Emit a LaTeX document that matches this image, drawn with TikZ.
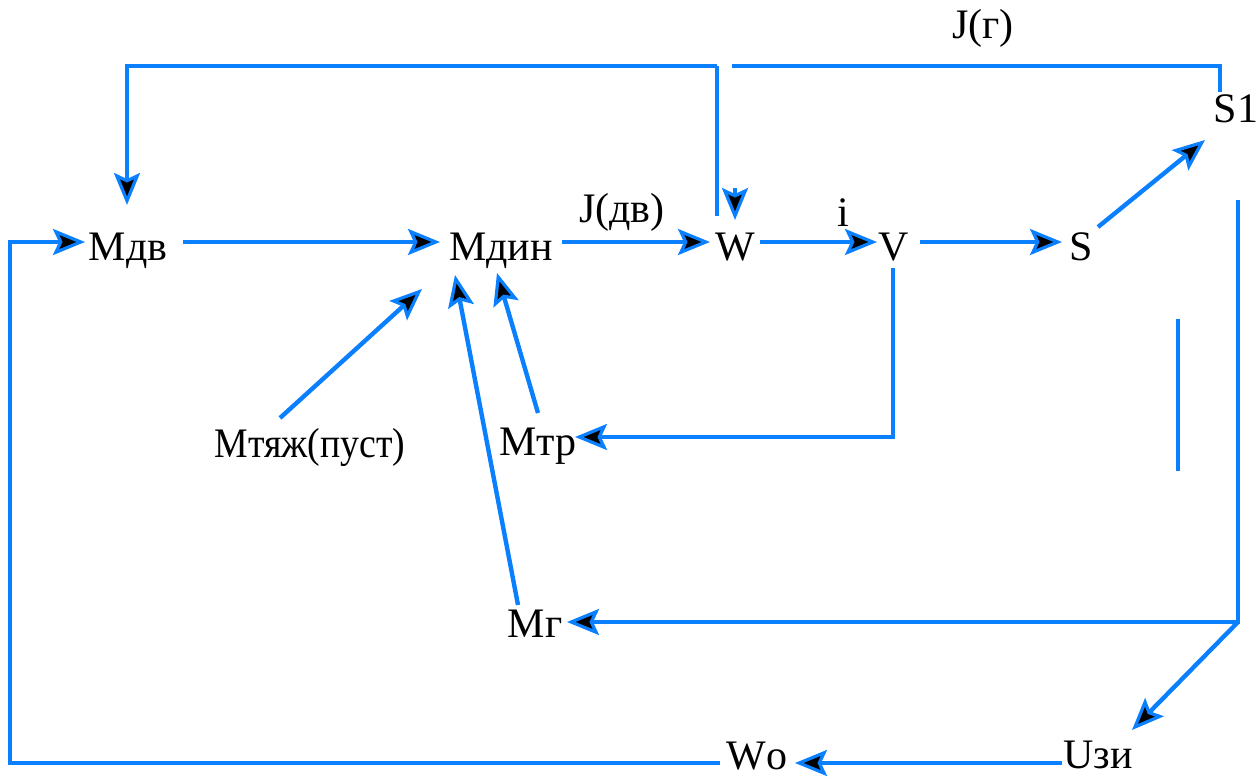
\documentclass[tikz,border=0pt]{standalone}
\usepackage{fontspec}
\setmainfont{Liberation Serif}
\newfontfamily\tnr{Liberation Serif}
\usetikzlibrary{arrows.meta,calc}
\definecolor{lblue}{RGB}{10,128,255}
\tikzset{
  lbl/.style={inner sep=0pt, text height=18pt, text depth=0pt, font=\tnr\fontsize{21}{25}\selectfont},
  line/.style={draw=lblue, line width=2.2pt},
  arr/.style={line, -{Stealth[length=16pt,width=13pt,inset=3pt,color=lblue,fill=black,line width=1.6pt]}}
}
\begin{document}
\begin{tikzpicture}[x=0.5pt,y=-0.5pt]
\useasboundingbox (0,0) rectangle (1257,776);
% nodes
\node[lbl] (Mdv) at (128,242) {Мдв};
\node[lbl] (Mdin) at (501,242) {Мдин};
\node[lbl] (W) at (735,242) {W};
\node[lbl] (V) at (894,242) {V};
\node[lbl] (S) at (1081,242) {S};
\node[lbl] (S1) at (1236,104) {S1};
\node[lbl, xscale=0.9, transform shape] (Mtyazh) at (310,439) {Мтяж(пуст)};
\node[lbl] (Mtr) at (538,437) {Мтр};
\node[lbl] (Mg) at (535,619) {Мг};
\node[lbl] (Uzi) at (1098,750) {Uзи};
\node[lbl] (Wo) at (757,751) {Wо};
\node[lbl] (Jdv) at (622,204) {J(дв)};
\node[lbl] (ii) at (843,208) {i};
\node[lbl] (Jg) at (983,20) {J(г)};
% named corner coordinates
\coordinate (gapR) at (732,66);
\coordinate (gapL) at (717,66);
\coordinate (bl) at (10,763);
\coordinate (rc) at (1238,622);
% horizontal chain
\draw[arr] ($(Mdv)+(55,0)$) -- ($(Mdin)+(-61,0)$);
\draw[arr] ($(Mdin)+(61,0)$) -- ($(W)+(-25,0)$);
\draw[arr] ($(W)+(25,0)$) -- ($(V)+(-17,0)$);
\draw[arr] ($(V)+(26,0)$) -- ($(S)+(-19,0)$);
% S -> S1
\draw[arr] ($(S)+(17,-15)$) -- ($(S1)+(-31,36)$);
% top loop
\draw[line] ($(S1)+(-16,-12)$) |- (gapR);
\draw[arr] (gapL) -| ($(Mdv)+(-1,-37)$);
\draw[line] (gapL) -- ($(W)+(-18,-26)$);
\draw[arr] ($(W)+(0,-54)$) -- ($(W)+(0,-22)$);
% V -> Mtr
\draw[arr] ($(V)+(-1,26)$) |- ($(Mtr)+(37,0)$);
% into Mdin
\draw[arr] ($(Mtr)+(0,-24)$) -- ($(Mdin)+(-4,31)$);
\draw[arr] ($(Mtyazh)+(-30,-21)$) -- ($(Mdin)+(-79,47)$);
\draw[arr] ($(Mg)+(-17,-14)$) -- ($(Mdin)+(-46,33)$);
% right side
\draw[arr] ($(S1)+(2,96)$) |- ($(Mg)+(32,3)$);
\draw[arr] (rc) -- ($(Uzi)+(34,-20)$);
\draw[arr] ($(Uzi)+(-36,13)$) -- ($(Wo)+(38,12)$);
% bottom-left loop
\draw[arr] ($(Wo)+(-37,12)$) -- (bl) |- ($(Mdv)+(-43,0)$);
% standalone line
\draw[line] (1178,319) -- (1178,471);
\end{tikzpicture}
\end{document}
